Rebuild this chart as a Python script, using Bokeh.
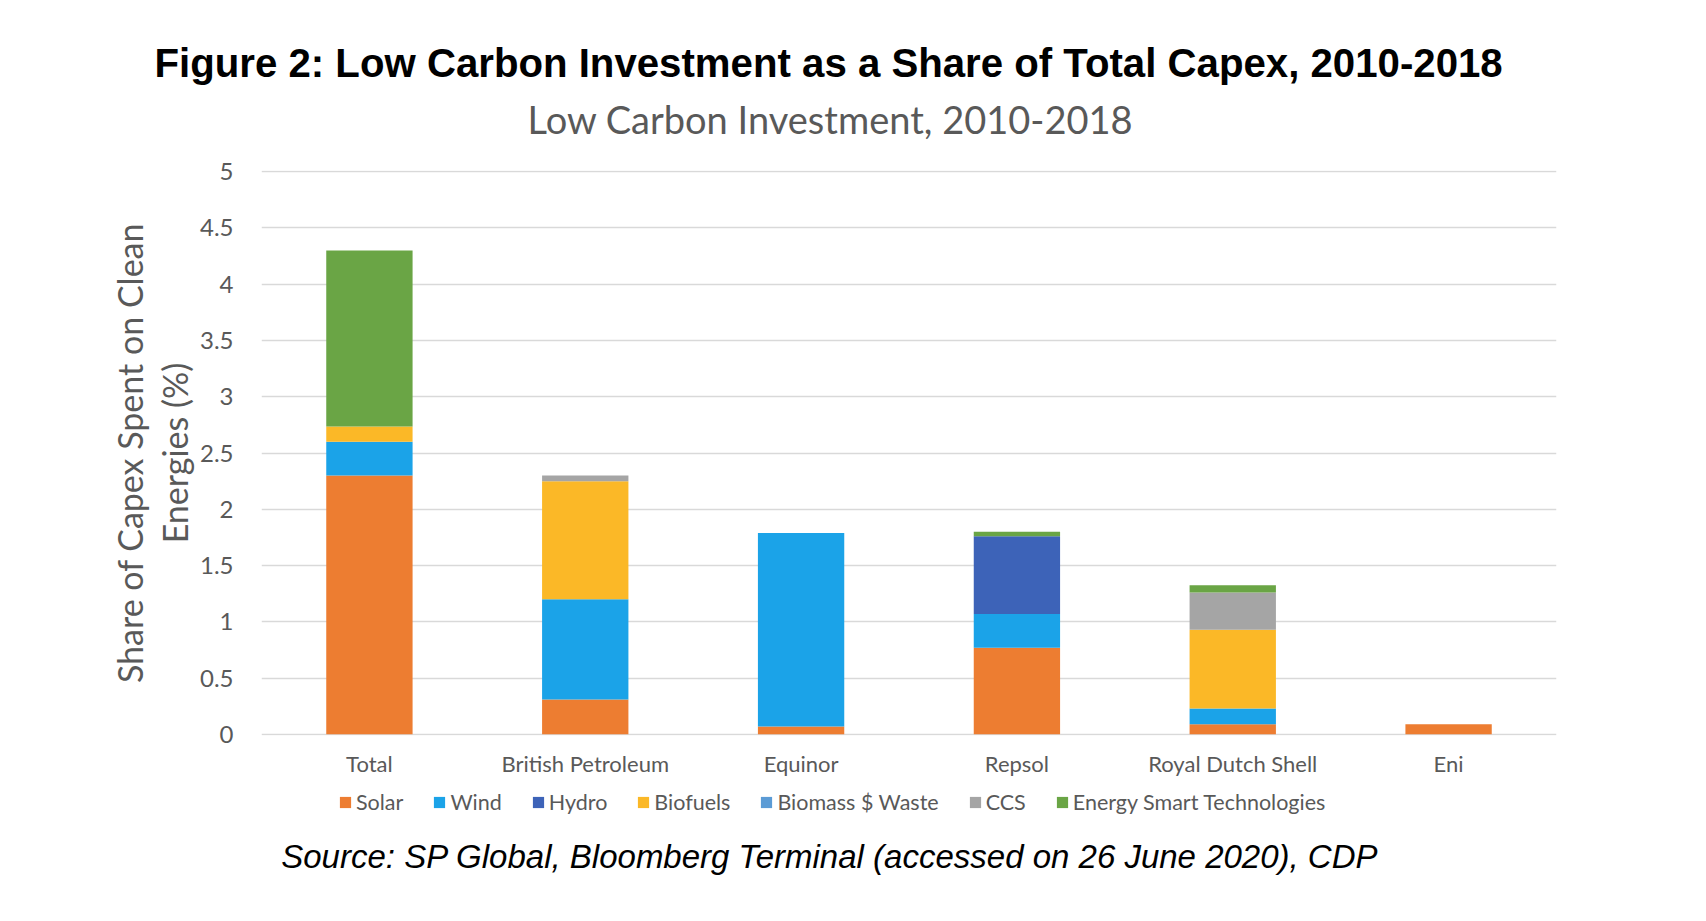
from bokeh.plotting import figure
from bokeh.models import (Legend, LegendItem, FactorRange, Range1d, Title, Label,
                          FixedTicker, NumeralTickFormatter)
from bokeh.layouts import column
from bokeh.embed import file_html
from bokeh.resources import INLINE

# ---------------- data ----------------
categories = ["Total", "British Petroleum", "Equinor", "Repsol", "Royal Dutch Shell", "Eni"]
solar = [2.30, 0.31, 0.07, 0.77, 0.09, 0.09]
wind = [0.30, 0.89, 1.72, 0.30, 0.14, 0.0]
hydro = [0.0, 0.0, 0.0, 0.69, 0.0, 0.0]
biofuels = [0.135, 1.05, 0.0, 0.0, 0.70, 0.0]
biomass = [0.0, 0.0, 0.0, 0.0, 0.0, 0.0]
ccs = [0.0, 0.05, 0.0, 0.0, 0.33, 0.0]
est = [1.565, 0.0, 0.0, 0.04, 0.065, 0.0]

series_names = ["Solar", "Wind", "Hydro", "Biofuels", "Biomass $ Waste", "CCS",
                "Energy Smart Technologies"]
series_keys = ["solar", "wind", "hydro", "biofuels", "biomass", "ccs", "est"]
colors = ["#ED7D31", "#1BA3E8", "#3D63B8", "#FBB827", "#5B9BD5", "#A5A5A5", "#6AA545"]
y_ticks = [0, 0.5, 1, 1.5, 2, 2.5, 3, 3.5, 4, 4.5, 5]

title_text = "Figure 2: Low Carbon Investment as a Share of Total Capex, 2010-2018"
subtitle_text = "Low Carbon Investment, 2010-2018"
ylabel_text = "Share of Capex Spent on Clean\nEnergies (%)"
source_text = "Source: SP Global, Bloomberg Terminal (accessed on 26 June 2020), CDP"

# ---------------- layout ----------------
W = 1700
H1, H2 = 786, 129
FL, FR, FT, FB = 261, 1556, 170, 735   # main frame edges in canvas px

data = dict(cat=categories, solar=solar, wind=wind, hydro=hydro, biofuels=biofuels,
            biomass=biomass, ccs=ccs, est=est)

p = figure(width=W, height=H1, x_range=FactorRange(*categories, range_padding=0),
           y_range=Range1d(-0.01, 5.01), output_backend="svg", toolbar_location=None,
           title=None,
           min_border_left=FL, min_border_right=W - FR,
           min_border_top=FT, min_border_bottom=H1 - FB)
p.outline_line_color = None
p.background_fill_color = "white"
p.border_fill_color = "white"

rs = p.vbar_stack(series_keys, x="cat", width=0.40, color=colors, source=data,
                  line_color=None)

# axes
ticker = FixedTicker(ticks=y_ticks)
p.yaxis.ticker = ticker
p.ygrid.ticker = ticker
p.yaxis.formatter = NumeralTickFormatter(format="0.[0]")
for ax in (p.xaxis[0], p.yaxis[0]):
    ax.axis_line_color = None
    ax.major_tick_line_color = None
    ax.minor_tick_line_color = None
    ax.major_label_text_color = "#595959"
    ax.major_label_text_font = "Lato"
p.yaxis.major_label_text_font_size = "24px"
p.yaxis.major_label_standoff = 22
p.yaxis.axis_label = ylabel_text
p.yaxis.axis_label_text_font = "Lato"
p.yaxis.axis_label_text_font_size = "34px"
p.yaxis.axis_label_text_font_style = "normal"
p.yaxis.axis_label_text_color = "#595959"
p.yaxis.axis_label_text_line_height = 1.1
p.yaxis.axis_label_standoff = 2
p.xaxis.major_label_text_font_size = "22px"
p.xaxis.major_label_standoff = 8
p.xgrid.grid_line_color = None
p.ygrid.grid_line_color = "#D9D9D9"
p.ygrid.grid_line_width = 1.5

# titles (above, nearest-to-frame first)
sub = Title(text=subtitle_text, align="left", offset=266, text_font="Lato",
            text_font_size="38px", text_font_style="normal", text_color="#595959",
            standoff=57)
main = Title(text=title_text, align="left", offset=-107, text_font="Liberation Sans",
             text_font_size="40.2px", text_font_style="bold", text_color="black",
             standoff=-40)
p.add_layout(sub, "above")
p.add_layout(main, "above")

# ---------------- bottom strip: legend + source ----------------
# (column layout aligns this strip's frame with the main frame: FL..FR)
p2 = figure(width=W, height=H2, x_range=FactorRange(*categories, range_padding=0),
            y_range=Range1d(10, 11),
            output_backend="svg", toolbar_location=None, title=None,
            x_axis_location=None, y_axis_location=None,
            min_border_left=FL, min_border_right=W - FR, min_border_top=0,
            min_border_bottom=0)
p2.outline_line_color = None
p2.grid.grid_line_color = None
p2.background_fill_color = "white"
p2.border_fill_color = "white"

# same stacks, kept outside the strip's visible y-range: only used for legend swatches
swatches = p2.vbar_stack(series_keys, x="cat", width=0.40, color=colors, source=data,
                         line_color=None)
items = [LegendItem(label=n, renderers=[r]) for n, r in zip(series_names, swatches)]
leg = Legend(items=items, orientation="horizontal", location=(338 - FL, 100),
             glyph_width=14, glyph_height=14, label_standoff=4, spacing=29,
             label_text_font="Lato", label_text_font_size="21.5px",
             label_text_color="#595959", padding=0, margin=0,
             border_line_color=None, background_fill_alpha=0)
p2.add_layout(leg, "center")

p2.add_layout(Label(x=829.5 - FL, y=H2 - 70, x_units="screen", y_units="screen",
                    text=source_text, text_align="center", text_baseline="middle",
                    text_font="Liberation Sans", text_font_size="33px",
                    text_font_style="italic", text_color="black"))

layout = column(p, p2, spacing=0)
open("out.html", "w").write(file_html(layout, INLINE))
